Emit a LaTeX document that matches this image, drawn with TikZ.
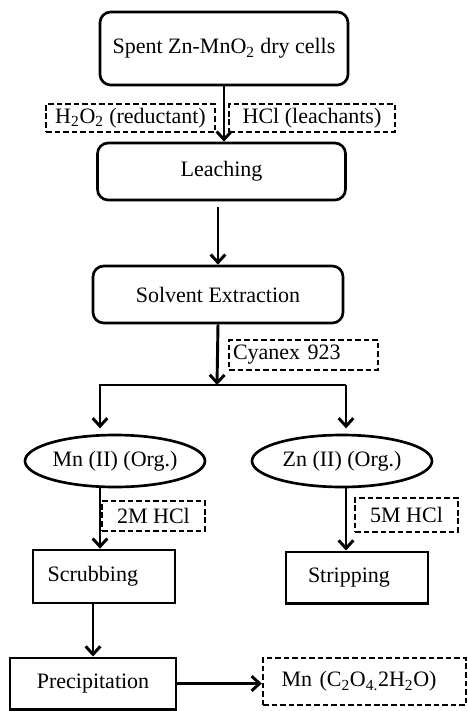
\documentclass[tikz,border=0pt]{standalone}
\usepackage{fontspec}
\setmainfont{Liberation Serif}
\usetikzlibrary{shapes.geometric,arrows.meta,positioning}

\begin{document}
\begin{tikzpicture}[x=0.75pt,y=-0.75pt,
  font=\fontsize{16.5}{19}\selectfont,
  line width=2pt,
  stepround/.style={draw, rounded corners=8pt, minimum width=186pt, minimum height=42.75pt},
  stepsquare/.style={draw, minimum width=106.5pt, minimum height=38.5pt},
  reagent/.style={draw, dash pattern=on 4.2pt off 2.2pt, line width=1.8pt, inner sep=2pt},
  phase/.style={draw, ellipse, inner sep=0pt, minimum width=135pt, minimum height=39pt},
  flow/.style={-{Straight Barb[length=6pt,width=11pt]}, line width=2.2pt}]

\useasboundingbox (0,0) rectangle (468,711);

% Main route: cells, leaching, extraction
\node[stepround, minimum height=54.75pt] (spent) at (224,48.5) {Spent Zn-MnO\textsubscript{2} dry cells};
\node[stepround] (leach) at (221.5,171.5) {Leaching};
\node[stepround, minimum width=187.5pt] (solvent) at (218,294.5) {Solvent Extraction};

% Reagents added along the way
\node[reagent, minimum width=126.75pt, minimum height=21pt] (reductant) at (130.5,118) {H\textsubscript{2}O\textsubscript{2} (reductant)};
\node[reagent, minimum width=124.5pt, minimum height=21pt] (leachant) at (312,118) {HCl (leachants)};
\node[reagent, text width=105.75pt, inner xsep=3pt, align=left, minimum height=22.5pt] (cyanex) at (303.5,355) {Cyanex 923};

% Organic phases
\coordinate (split) at (217,385);
\coordinate (splitleft) at (100,385);
\coordinate (splitright) at (346,385);
\node[phase] (mn) at (115,461) {Mn (II) (Org.)};
\node[phase] (zn) at (342,461) {Zn (II) (Org.)};

% Acid washes
\node[reagent, minimum width=77.25pt, minimum height=22.5pt] (hcltwo) at (153.5,516) {2M HCl};
\node[reagent, minimum width=77.25pt, minimum height=25.5pt] (hclfive) at (406.5,515) {5M HCl};

% Scrubbing, stripping and precipitation
\node[stepsquare, text width=84.5pt, inner xsep=11pt, align=left, minimum height=39.75pt] (scrub) at (104,576.5) {Scrubbing};
\node[stepsquare, text width=73.5pt, inner xsep=16.5pt, align=left] (strip) at (357,577.5) {Stripping};
\node[stepsquare, minimum width=124.5pt] (precip) at (93,683.5) {Precipitation};
\node[reagent, text width=124.25pt, inner xsep=14pt, align=left, minimum height=35.25pt] (product) at (364.5,681.5) {Mn (C\textsubscript{2}O\textsubscript{4.}2H\textsubscript{2}O)};

% Connectors
\draw[flow] (spent.south) -- (spent.south |- leach.north);
\draw[flow, shorten <=4pt] (solvent.north |- leach.south) -- (solvent.north);
\draw[flow] (solvent.south) -- (split);
\draw[flow, shorten >=4pt] (splitright) -- (splitleft) -- (splitleft |- mn.north);
\draw[flow, shorten >=4pt] (splitright) -- (splitright |- zn.north);
\draw[flow] (mn.south -| splitleft) -- (scrub.north -| splitleft);
\draw[flow] (zn.south -| splitright) -- (strip.north -| splitright);
\draw[flow] (precip.north |- scrub.south) -- (precip.north);
\draw[flow] (precip.east) -- (precip.east -| product.west);

\end{tikzpicture}
\end{document}
